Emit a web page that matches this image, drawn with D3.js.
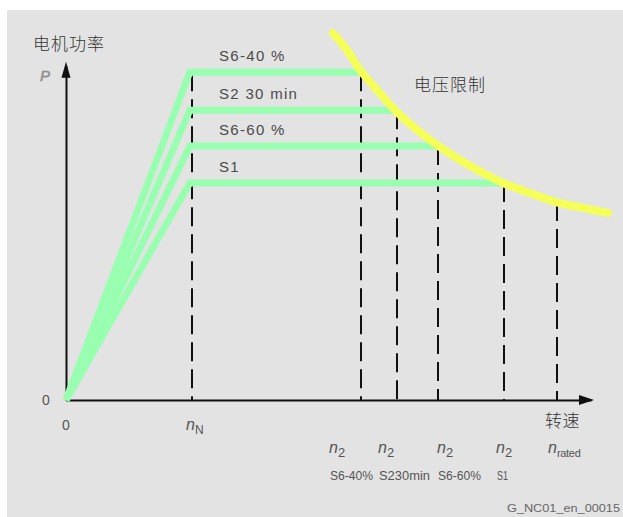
<!DOCTYPE html>
<html><head><meta charset="utf-8">
<script src="https://cdn.jsdelivr.net/npm/d3@7"></script>
<style>
html,body{margin:0;padding:0;background:#fff;}
svg{display:block;}
</style></head>
<body>
<svg id="c" width="623" height="517"></svg>
<script>
// ---- data (speed n in units of nN, power P in units of S1 power) ----
const series = ["S6-40 %", "S2 30 min", "S6-60 %", "S1"];
const plateauP = [1.51, 1.335, 1.17, 1.0];
const cornerN = [0.99, 0.99, 0.99, 0.99];
const limitN = [2.352, 2.64, 2.968, 3.496];
const nRated = 3.92;
const n2Top = ["n", "n", "n", "n"];
const n2Sub = ["2", "2", "2", "2"];
const n2Names = ["S6-40%", "S230min", "S6-60%", "S1"];
const curveN = [2.136, 2.248, 2.352, 2.488, 2.632, 2.792, 2.968, 3.152, 3.336, 3.496, 3.688, 3.92, 4.136, 4.336];
const curveP = [1.691, 1.613, 1.521, 1.429, 1.336, 1.253, 1.175, 1.106, 1.046, 1.0, 0.959, 0.912, 0.885, 0.862];
const xMax = 4.2, yMax = 1.54;

// ---- layout ----
const svg = d3.select("#c");
const x = d3.scaleLinear().domain([0, 1]).range([66, 191]);
const y = d3.scaleLinear().domain([0, 1]).range([400, 183]);

svg.append("rect").attr("x", 7).attr("y", 10).attr("width", 616).attr("height", 507).attr("fill", "#e3e3e3");

const green = "#99ffb0", yellow = "#f4ff58";

// dashed verticals
const dashN = [1].concat(limitN).concat([nRated]);
const dashTopP = [plateauP[0]].concat(plateauP).concat([d3.scaleLinear().domain(curveN).range(curveP)(nRated)]);
svg.append("g").selectAll("line").data(dashN).join("line")
  .attr("x1", d => x(d) + 1).attr("x2", d => x(d) + 1)
  .attr("y1", (d, i) => y(dashTopP[i]))
  .attr("y2", y(0))
  .attr("stroke", "#111").attr("stroke-width", 2)
  .attr("stroke-dasharray", "19,8");

// axes
const xAxis = d3.axisBottom(x).tickValues([]).tickSizeOuter(0);
const gx = svg.append("g").attr("transform", `translate(0,${y(0)})`).call(xAxis.scale(x.copy().domain([0, xMax]).range([x(0), x(xMax)])));
gx.select(".domain").attr("stroke", "#111").attr("stroke-width", 2);
const yAxis = d3.axisLeft(y).tickValues([]).tickSizeOuter(0);
const gy = svg.append("g").attr("transform", `translate(${x(0)},0)`).call(yAxis.scale(y.copy().domain([0, yMax]).range([y(0), y(yMax)])));
gy.select(".domain").attr("stroke", "#111").attr("stroke-width", 2);

// arrowheads
const xe = x(xMax), ye = y(yMax);
svg.append("path").attr("d", `M${xe - 12},${y(0) - 5} L${xe + 3},${y(0)} L${xe - 12},${y(0) + 5} Z`).attr("fill", "#111");
svg.append("path").attr("d", `M${x(0) - 4.5},${ye + 12} L${x(0)},${ye - 4} L${x(0) + 4.5},${ye + 12} Z`).attr("fill", "#111");

// power curves (green)
const line = d3.line().x(d => x(d[0])).y(d => y(d[1]));
svg.append("g").selectAll("path").data(series).join("path")
  .attr("d", (s, i) => line([[0, 0], [cornerN[i], plateauP[i]], [limitN[i], plateauP[i]]]))
  .attr("fill", "none").attr("stroke", green).attr("stroke-width", 7)
  .attr("stroke-linejoin", "miter");

// voltage limit (yellow)
const curve = d3.line().x(d => x(d[0])).y(d => y(d[1])).curve(d3.curveCatmullRom);
svg.append("path").attr("d", curve(curveN.map((n, i) => [n, curveP[i]])))
  .attr("fill", "none").attr("stroke", yellow).attr("stroke-width", 8).attr("stroke-linecap", "round");

// texts
const sans = "'Liberation Sans', Arial, sans-serif";
const cjk = "'Noto Sans CJK SC', sans-serif";
svg.append("g").selectAll("text").data(series).join("text")
  .attr("x", x(1.224)).attr("y", (s, i) => y(plateauP[i]) - 11)
  .attr("font-family", sans).attr("font-size", 15).attr("letter-spacing", 1.3)
  .attr("fill", "#4a4a4a").text(d => d);

svg.append("text").attr("x", 33).attr("y", 50).attr("font-family", cjk).attr("font-size", 17).attr("font-weight", 300)
  .attr("letter-spacing", 1).attr("fill", "#333").text("电机功率");
svg.append("text").attr("x", 414).attr("y", 91).attr("font-family", cjk).attr("font-size", 17).attr("font-weight", 300)
  .attr("letter-spacing", 1).attr("fill", "#333").text("电压限制");
svg.append("text").attr("x", 545).attr("y", 427).attr("font-family", cjk).attr("font-size", 17).attr("font-weight", 300)
  .attr("letter-spacing", 0.5).attr("fill", "#333").text("转速");

svg.append("text").attr("x", 40).attr("y", 81).attr("font-family", sans).attr("font-style", "italic")
  .attr("font-size", 15).attr("fill", "#9a9a9a").attr("stroke", "#777").attr("stroke-width", 0.4).text("P");

svg.append("text").attr("x", 46).attr("y", 405).attr("text-anchor", "middle").attr("font-family", sans)
  .attr("font-size", 14).attr("fill", "#555").text("0");
svg.append("text").attr("x", x(0)).attr("y", 430).attr("text-anchor", "middle").attr("font-family", sans)
  .attr("font-size", 14).attr("fill", "#555").text("0");

const nN = svg.append("text").attr("x", x(1) - 5).attr("y", 430).attr("font-family", sans).attr("fill", "#555");
nN.append("tspan").attr("font-style", "italic").attr("font-size", 16).text("n");
nN.append("tspan").attr("font-size", 12).attr("dy", 4).text("N");

// n2 labels below axis
const labelX = [329, 378, 437, 496];
const gl = svg.append("g");
n2Names.forEach((nm, i) => {
  const t = gl.append("text").attr("x", labelX[i]).attr("y", 453).attr("font-family", sans).attr("fill", "#555");
  t.append("tspan").attr("font-style", "italic").attr("font-size", 16).text(n2Top[i]);
  t.append("tspan").attr("font-size", 13).attr("dy", 4).text(n2Sub[i]);
  gl.append("text").attr("x", labelX[i] + 1).attr("y", 480).attr("font-family", sans).attr("font-size", 12)
    .attr("fill", "#555").attr("textLength", nm === "S1" ? 11 : (nm === "S230min" ? 51 : 43))
    .attr("lengthAdjust", "spacingAndGlyphs").text(nm);
});
const tr = gl.append("text").attr("x", 548).attr("y", 453).attr("font-family", sans).attr("fill", "#555");
tr.append("tspan").attr("font-style", "italic").attr("font-size", 16).text("n");
tr.append("tspan").attr("font-size", 11).attr("dy", 4).attr("letter-spacing", -0.3).text("rated");

svg.append("text").attr("x", 507).attr("y", 512).attr("font-family", sans).attr("font-size", 10)
  .attr("fill", "#666").attr("textLength", 113).attr("lengthAdjust", "spacingAndGlyphs").text("G_NC01_en_00015");
</script>
</body></html>
